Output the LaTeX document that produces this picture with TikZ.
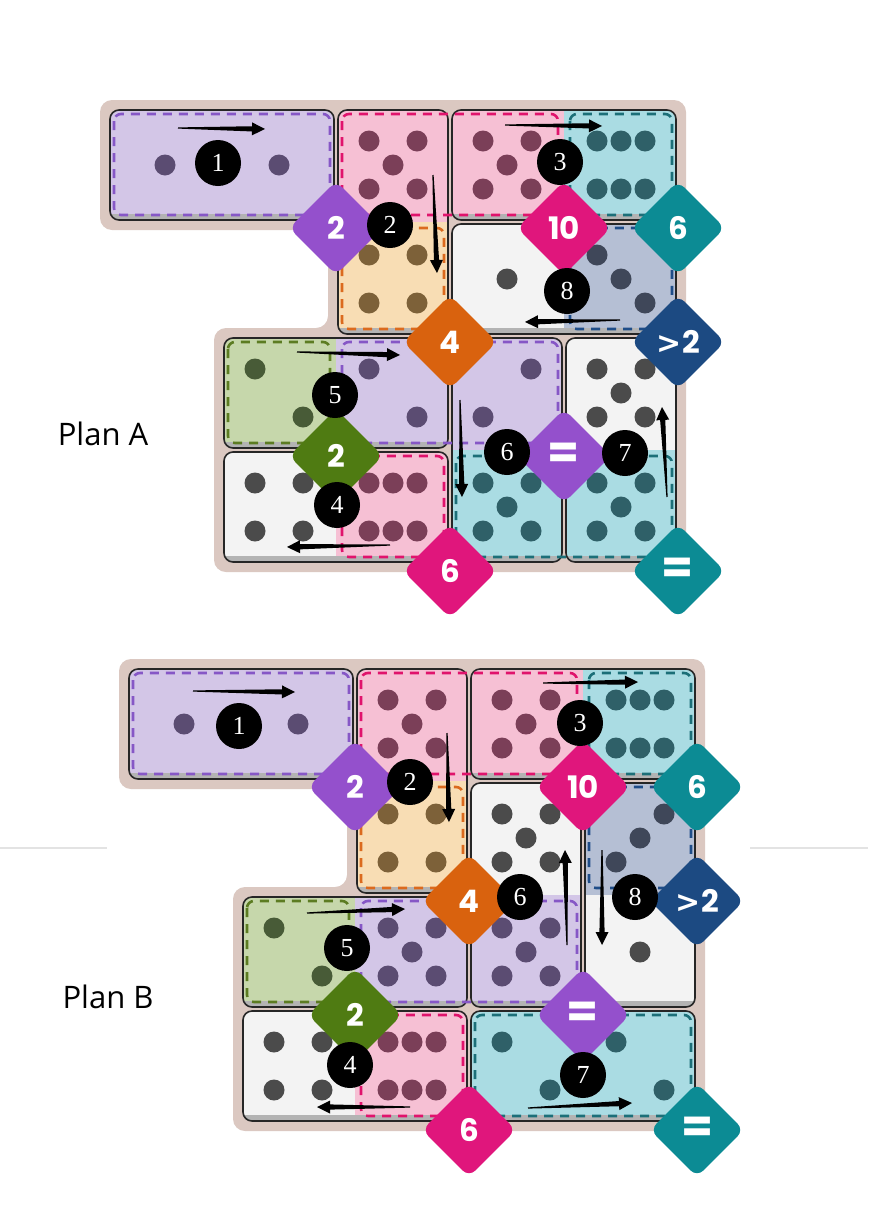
\documentclass[tikz,border=0pt]{standalone}
\usepackage{fontspec}
\setmainfont{Open Sans}
\newfontfamily\numfont{Liberation Serif}
\newfontfamily\clufont{Poppins}
\newfontfamily\signfont{DejaVu Sans}
\usetikzlibrary{calc,shapes.geometric}

\definecolor{boardtan}{HTML}{DBC8C1}
\definecolor{domshadow}{HTML}{B3B3B3}
\definecolor{whiteface}{HTML}{F3F3F3}
\definecolor{whitepip}{HTML}{4B4B4B}
\definecolor{purplefill}{HTML}{D3C6E7}
\definecolor{purpledash}{HTML}{8657C6}
\definecolor{purplepip}{HTML}{5B4C72}
\definecolor{purpleclue}{HTML}{9450CC}
\definecolor{pinkfill}{HTML}{F6C0D4}
\definecolor{pinkdash}{HTML}{E0136C}
\definecolor{pinkpip}{HTML}{7B3F58}
\definecolor{pinkclue}{HTML}{E0167C}
\definecolor{tealfill}{HTML}{AADCE3}
\definecolor{tealdash}{HTML}{1C6F78}
\definecolor{tealpip}{HTML}{2F6068}
\definecolor{tealclue}{HTML}{0C8B94}
\definecolor{orangefill}{HTML}{F8DDB4}
\definecolor{orangedash}{HTML}{DB6A1E}
\definecolor{orangepip}{HTML}{7D6139}
\definecolor{orangeclue}{HTML}{D9620E}
\definecolor{greenfill}{HTML}{C6D7AB}
\definecolor{greendash}{HTML}{5C7C22}
\definecolor{greenpip}{HTML}{485B37}
\definecolor{greenclue}{HTML}{4F7B12}
\definecolor{navyfill}{HTML}{B5BFD4}
\definecolor{navydash}{HTML}{1F4D88}
\definecolor{navypip}{HTML}{3F4759}
\definecolor{navyclue}{HTML}{1C4A82}

\def\cs{114}
\def\pipone{0/0}
\def\piptwoa{-1/-1,1/1}
\def\piptwob{1/-1,-1/1}
\def\pipthreea{-1/-1,0/0,1/1}
\def\pipthreeb{1/-1,0/0,-1/1}
\def\pipfour{-1/-1,1/-1,-1/1,1/1}
\def\pipfive{-1/-1,1/-1,0/0,-1/1,1/1}
\def\pipsix{-1/-1,0/-1,1/-1,-1/1,0/1,1/1}
\newcommand\bigsign[1]{{\fontsize{46}{46}\selectfont #1}}
\newcommand\moresign{{\signfont\bfseries\fontsize{30}{30}\selectfont >}}

% horizontal domino: col, row, left colour, right colour
\newcommand\hdomino[4]{%
  \begin{scope}
    \clip[rounded corners=9pt] ({#1*\cs+2},{#2*\cs+2}) rectangle ({(#1+2)*\cs-2},{(#2+1)*\cs-2});
    \fill[domshadow] ({#1*\cs},{#2*\cs}) rectangle ({(#1+2)*\cs},{(#2+1)*\cs});
    \fill[#3] ({#1*\cs},{#2*\cs}) rectangle ({(#1+1)*\cs},{(#2+1)*\cs-8});
    \fill[#4] ({(#1+1)*\cs},{#2*\cs}) rectangle ({(#1+2)*\cs},{(#2+1)*\cs-8});
  \end{scope}
  \draw[dominoline] ({#1*\cs+2},{#2*\cs+2}) rectangle ({(#1+2)*\cs-2},{(#2+1)*\cs-2});}

% vertical domino: col, row, top colour, bottom colour
\newcommand\vdomino[4]{%
  \begin{scope}
    \clip[rounded corners=9pt] ({#1*\cs+2},{#2*\cs+2}) rectangle ({(#1+1)*\cs-2},{(#2+2)*\cs-2});
    \fill[domshadow] ({#1*\cs},{#2*\cs}) rectangle ({(#1+1)*\cs},{(#2+2)*\cs});
    \fill[#3] ({#1*\cs},{#2*\cs}) rectangle ({(#1+1)*\cs},{(#2+1)*\cs});
    \fill[#4] ({#1*\cs},{(#2+1)*\cs}) rectangle ({(#1+1)*\cs},{(#2+2)*\cs-8});
  \end{scope}
  \draw[dominoline] ({#1*\cs+2},{#2*\cs+2}) rectangle ({(#1+1)*\cs-2},{(#2+2)*\cs-2});}

\newcommand\zone[5]{%
  \draw[zoneline,#5] ({#1*\cs+6},{#2*\cs+6}) rectangle ({#3*\cs-6},{#4*\cs-7});}

\newcommand\pips[4]{%
  \foreach \ox/\oy in #3
    \fill[#4] ({(#1+.5)*\cs+(\ox)*24},{(#2+.5)*\cs+(\oy)*24}) circle (10.5);}

\newcommand\pointer[2]{%
  \coordinate (pt) at (#1);
  \coordinate (pb) at (#2);
  \coordinate (ph) at ($(pb)!13pt!(pt)$);
  \fill[pointer] ($(pt)!.6pt!90:(pb)$) -- ($(ph)!2.6pt!90:(pb)$) -- ($(ph)!6.5pt!90:(pb)$)
    -- (pb) -- ($(ph)!6.5pt!-90:(pb)$) -- ($(ph)!2.6pt!-90:(pb)$) -- ($(pt)!.6pt!-90:(pb)$) -- cycle;}

\newcommand\boardshape{%
  \fill[board] (-8,-8) -- ({5*\cs+8},-8) -- ({5*\cs+8},{4*\cs+8}) -- ({\cs-8},{4*\cs+8})
    -- ({\cs-8},{2*\cs-8}) -- ({2*\cs-8},{2*\cs-8}) -- ({2*\cs-8},{\cs+8}) -- (-8,{\cs+8}) -- cycle;}

\newcommand\zones{%
  \zone{0}{0}{2}{1}{purpledash}
  \zone{2}{0}{4}{1}{pinkdash}
  \zone{4}{0}{5}{1}{tealdash}
  \zone{2}{1}{3}{2}{orangedash}
  \zone{4}{1}{5}{2}{navydash}
  \zone{1}{2}{2}{3}{greendash}
  \zone{2}{2}{4}{3}{purpledash}
  \zone{2}{3}{3}{4}{pinkdash}
  \zone{3}{3}{5}{4}{tealdash}}

% #1 = plan letter, used in node names
\newcommand\clues[1]{%
  \node[clue,fill=purpleclue] (#1two)   at (228,120) {2};
  \node[clue,fill=pinkclue]   (#1ten)   at (456,120) {10};
  \node[clue,fill=tealclue]   (#1six)   at (570,120) {6};
  \node[clue,fill=orangeclue] (#1four)  at (342,234) {4};
  \node[clue,fill=navyclue]   (#1more)  at (570,234) {\moresign\kern1pt2};
  \node[clue,fill=greenclue]  (#1green) at (228,348) {2};
  \node[clue,fill=purpleclue] (#1eq)    at (456,348) {\bigsign{=}};
  \node[clue,fill=pinkclue]   (#1pink)  at (342,463) {6};
  \node[clue,fill=tealclue]   (#1teal)  at (570,463) {\bigsign{=}};}

\begin{document}
\begin{tikzpicture}[x=1pt, y=-1pt,
  board/.style = {fill=boardtan, rounded corners=12pt},
  dominoline/.style = {draw=black!85, line width=1.6pt, rounded corners=9pt},
  zoneline/.style = {dash pattern=on 9pt off 7pt, line width=2.6pt, rounded corners=7pt},
  clue/.style = {diamond, aspect=1, minimum width=94pt, minimum height=94pt,
    inner sep=0pt, rounded corners=9pt, text=white,
    font=\clufont\bfseries\fontsize{31}{31}\selectfont},
  marker/.style = {circle, fill=black, minimum size=46pt, inner sep=0pt,
    text=white, font=\numfont\fontsize{26}{26}\selectfont},
  pointer/.style = {fill=black},
  rule/.style = {draw=black!11, line width=1.5pt}]

 \useasboundingbox[fill=white] (0,0) rectangle (870,1229);
 \draw[rule] (0,848) -- (107,848);
 \draw[rule] (750,848) -- (868,848);

 \node[font=\fontsize{31}{31}\selectfont] (planA) at (103,434) {Plan A};
 \node[font=\fontsize{31}{31}\selectfont] (planB) at (108,997) {Plan B};

 % plan A
 \begin{scope}[shift={(108,108)}]
  \boardshape
  \hdomino{0}{0}{purplefill}{purplefill}
  \vdomino{2}{0}{pinkfill}{orangefill}
  \hdomino{3}{0}{pinkfill}{tealfill}
  \hdomino{3}{1}{whiteface}{navyfill}
  \hdomino{1}{2}{greenfill}{purplefill}
  \hdomino{1}{3}{whiteface}{pinkfill}
  \vdomino{3}{2}{purplefill}{tealfill}
  \vdomino{4}{2}{whiteface}{tealfill}
  \zones
  \pips{0}{0}{\pipone}{purplepip}
  \pips{1}{0}{\pipone}{purplepip}
  \pips{2}{0}{\pipfive}{pinkpip}
  \pips{2}{1}{\pipfour}{orangepip}
  \pips{3}{0}{\pipfive}{pinkpip}
  \pips{4}{0}{\pipsix}{tealpip}
  \pips{3}{1}{\pipone}{whitepip}
  \pips{4}{1}{\pipthreea}{navypip}
  \pips{1}{2}{\piptwoa}{greenpip}
  \pips{2}{2}{\piptwoa}{purplepip}
  \pips{1}{3}{\pipfour}{whitepip}
  \pips{2}{3}{\pipsix}{pinkpip}
  \pips{3}{2}{\piptwob}{purplepip}
  \pips{3}{3}{\pipfive}{tealpip}
  \pips{4}{2}{\pipfive}{whitepip}
  \pips{4}{3}{\pipfive}{tealpip}
  \pointer{70,20}{157,21}
  \pointer{325,67}{329,165}
  \pointer{397,17}{494,18}
  \pointer{282,437}{179,439}
  \pointer{189,244}{292,247}
  \pointer{352,292}{354,389}
  \pointer{559,389}{554,299}
  \pointer{512,212}{417,214}
  \clues{A}
  \node[marker] (A1) at (110,55) {1};
  \node[marker] (A2) at (282,117) {2};
  \node[marker] (A3) at (452,54) {3};
  \node[marker] (A4) at (229,397) {4};
  \node[marker] (A5) at (227,287) {5};
  \node[marker] (A6) at (399,344) {6};
  \node[marker] (A7) at (517,345) {7};
  \node[marker] (A8) at (459,183) {8};
 \end{scope}

 % plan B
 \begin{scope}[shift={(127,667)}]
  \boardshape
  \hdomino{0}{0}{purplefill}{purplefill}
  \vdomino{2}{0}{pinkfill}{orangefill}
  \hdomino{3}{0}{pinkfill}{tealfill}
  \vdomino{3}{1}{whiteface}{purplefill}
  \vdomino{4}{1}{navyfill}{whiteface}
  \hdomino{1}{2}{greenfill}{purplefill}
  \hdomino{1}{3}{whiteface}{pinkfill}
  \hdomino{3}{3}{tealfill}{tealfill}
  \zones
  \pips{0}{0}{\pipone}{purplepip}
  \pips{1}{0}{\pipone}{purplepip}
  \pips{2}{0}{\pipfive}{pinkpip}
  \pips{2}{1}{\pipfour}{orangepip}
  \pips{3}{0}{\pipfive}{pinkpip}
  \pips{4}{0}{\pipsix}{tealpip}
  \pips{3}{1}{\pipfive}{whitepip}
  \pips{3}{2}{\pipfive}{purplepip}
  \pips{4}{1}{\pipthreeb}{navypip}
  \pips{4}{2}{\pipone}{whitepip}
  \pips{1}{2}{\piptwoa}{greenpip}
  \pips{2}{2}{\pipfive}{purplepip}
  \pips{1}{3}{\pipfour}{whitepip}
  \pips{2}{3}{\pipsix}{pinkpip}
  \pips{3}{3}{\piptwoa}{tealpip}
  \pips{4}{3}{\piptwoa}{tealpip}
  \pointer{66,24}{168,25}
  \pointer{320,66}{322,155}
  \pointer{416,16}{511,15}
  \pointer{283,440}{190,440}
  \pointer{180,246}{278,242}
  \pointer{440,278}{438,183}
  \pointer{401,441}{505,436}
  \pointer{475,183}{475,278}
  \clues{B}
  \node[marker] (B1) at (112,59) {1};
  \node[marker] (B2) at (283,115) {2};
  \node[marker] (B3) at (453,56) {3};
  \node[marker] (B4) at (223,398) {4};
  \node[marker] (B5) at (220,281) {5};
  \node[marker] (B6) at (393,230) {6};
  \node[marker] (B7) at (456,408) {7};
  \node[marker] (B8) at (508,230) {8};
 \end{scope}
\end{tikzpicture}
\end{document}
